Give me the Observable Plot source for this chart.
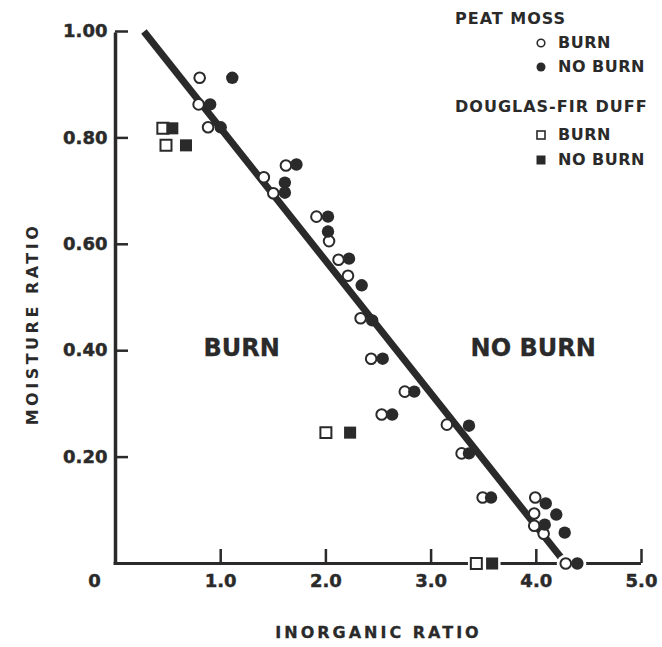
<!DOCTYPE html>
<html>
<head>
<meta charset="utf-8">
<script src="https://cdn.jsdelivr.net/npm/d3@7"></script>
<script src="https://cdn.jsdelivr.net/npm/@observablehq/plot@0.6"></script>
<style>
  html, body { margin: 0; padding: 0; background: #fff; }
  #wrap { position: relative; width: 662px; height: 647px; font-family: "DejaVu Sans", sans-serif; color: #2a2a2a; }
  #legend { position: absolute; left: 0; top: 0; width: 662px; height: 200px; pointer-events: none; }
  .lg { position: absolute; font-weight: bold; font-size: 16px; line-height: 1; white-space: nowrap; }
  .lg.head { letter-spacing: 1px; }
  .lg.item { letter-spacing: 0.5px; }
  .sym { position: absolute; }
  #ytitle { position: absolute; left: 33px; top: 324px; transform: translate(-50%, -50%) rotate(-90deg);
            font-weight: bold; font-size: 16px; letter-spacing: 3.5px; white-space: nowrap; line-height: 1; }
</style>
</head>
<body>
<div id="wrap">
  <div id="chart"></div>
  <div id="legend"></div>
  <div id="ytitle"></div>
</div>
<script>
// ---- data ----
const peatBurnX   = [0.80, 0.79, 0.88, 1.41, 1.50, 1.62, 1.91, 2.03, 2.12, 2.21, 2.33, 2.43, 2.53, 2.75, 3.15, 3.29, 3.49, 3.99, 3.98, 3.98, 4.07, 4.28];
const peatBurnY   = [0.913, 0.863, 0.820, 0.726, 0.696, 0.748, 0.652, 0.606, 0.571, 0.541, 0.461, 0.385, 0.280, 0.323, 0.261, 0.207, 0.124, 0.124, 0.094, 0.071, 0.056, 0.0];
const peatNoBurnX = [1.11, 0.90, 1.00, 1.72, 1.61, 1.61, 2.02, 2.02, 2.22, 2.34, 2.44, 2.54, 2.63, 2.84, 3.36, 3.36, 3.57, 4.09, 4.19, 4.08, 4.27, 4.39];
const peatNoBurnY = [0.913, 0.863, 0.820, 0.750, 0.716, 0.697, 0.652, 0.624, 0.573, 0.523, 0.457, 0.385, 0.280, 0.323, 0.259, 0.207, 0.124, 0.113, 0.092, 0.073, 0.058, 0.0];
const duffBurnX   = [0.45, 0.48, 2.00, 3.43];
const duffBurnY   = [0.818, 0.786, 0.246, 0.0];
const duffNoBurnX = [0.54, 0.67, 2.23, 3.58];
const duffNoBurnY = [0.818, 0.786, 0.246, 0.0];
const lineX = [0.27, 4.28];
const lineY = [1.0, 0.0];
const xTicks = [1, 2, 3, 4, 5];
const xTickLabels = ["1.0", "2.0", "3.0", "4.0", "5.0"];
const yTicks = [0.2, 0.4, 0.6, 0.8, 1.0];
const yTickLabels = ["0.20", "0.40", "0.60", "0.80", "1.00"];
const regionLabels = ["BURN", "NO BURN"];
const regionX = [1.2, 3.97];
const regionY = [0.405, 0.405];
const xTitle = "INORGANIC RATIO";
const yTitle = "MOISTURE RATIO";

// ---- build tables ----
const zip = (xs, ys) => xs.map((x, i) => ({x, y: ys[i]}));
const peatBurn = zip(peatBurnX, peatBurnY);
const peatNoBurn = zip(peatNoBurnX, peatNoBurnY);
const duffBurn = zip(duffBurnX, duffBurnY);
const duffNoBurn = zip(duffNoBurnX, duffNoBurnY);
const fitLine = zip(lineX, lineY);
const regions = regionLabels.map((t, i) => ({t, x: regionX[i], y: regionY[i]}));
const ink = "#2a2a2a";
const onAxis = d => d.y === 0;
const heavy = {fontWeight: "bold", fill: ink, stroke: ink, strokeWidth: 0.45};

const chart = Plot.plot({
  width: 662,
  height: 647,
  marginLeft: 115,
  marginRight: 21,
  marginTop: 31,
  marginBottom: 84,
  x: {domain: [0, 5], axis: null},
  y: {domain: [0, 1], axis: null},
  style: {fontFamily: "DejaVu Sans", background: "white", color: ink, overflow: "visible"},
  marks: [
    // axes
    Plot.ruleX([0], {y1: 0, y2: 1, stroke: ink, strokeWidth: 3.5, insetBottom: -1.5}),
    Plot.ruleY([0], {x1: 0, x2: 5, stroke: ink, strokeWidth: 3, insetLeft: -1.5}),
    Plot.ruleY(yTicks, {y: d => d, x1: 0, x2: 0, insetRight: -13, stroke: ink, strokeWidth: 2.5}),
    Plot.ruleX(xTicks, {x: d => d, y1: 0, y2: 0, insetTop: -14, stroke: ink, strokeWidth: 2.5}),
    // tick labels
    Plot.text(yTicks, {x: 0, y: d => d, text: (d, i) => yTickLabels[i], dx: -8, textAnchor: "end", fontSize: 18, ...heavy}),
    Plot.text(xTicks, {x: d => d, y: 0, text: (d, i) => xTickLabels[i], dy: 18, fontSize: 18, ...heavy}),
    Plot.text(["0"], {x: 0, y: 0, text: d => d, dx: -21, dy: 18, fontSize: 18, ...heavy}),
    // x axis title
    Plot.text([xTitle], {frameAnchor: "bottom", text: d => d, dy: 74, fontSize: 16, ...heavy, strokeWidth: 0.3}),
    // fitted line
    Plot.line(fitLine, {x: "x", y: "y", stroke: ink, strokeWidth: 7, strokeLinecap: "butt"}),
    // white halos that break the x-axis under markers sitting on it
    Plot.dot(peatBurn.filter(onAxis).concat(peatNoBurn.filter(onAxis)), {x: "x", y: "y", r: 9, fill: "white"}),
    Plot.dot(duffBurn.filter(onAxis).concat(duffNoBurn.filter(onAxis)), {x: "x", y: "y", r: 9.5, symbol: "square", fill: "white"}),
    // points
    Plot.dot(peatBurn, {x: "x", y: "y", r: 5.3, fill: "white", stroke: ink, strokeWidth: 2}),
    Plot.dot(peatNoBurn, {x: "x", y: "y", r: 6.2, fill: ink}),
    Plot.dot(duffBurn, {x: "x", y: "y", r: 6.2, symbol: "square", fill: "white", stroke: ink, strokeWidth: 2}),
    Plot.dot(duffNoBurn, {x: "x", y: "y", r: 6.8, symbol: "square", fill: ink}),
    // region labels
    Plot.text(regions, {x: "x", y: "y", text: "t", fontSize: 24, ...heavy, strokeWidth: 0.3})
  ]
});
chart.querySelectorAll("text").forEach(t => {
  if (t.textContent === xTitle) t.setAttribute("letter-spacing", "3");
});
document.getElementById("chart").appendChild(chart);
document.getElementById("ytitle").textContent = yTitle;

// ---- legend (HTML overlay) ----
const legendGroups = [
  {title: "PEAT MOSS", y: 19, items: [
    {label: "BURN", y: 43, shape: "circle", filled: false},
    {label: "NO BURN", y: 67, shape: "circle", filled: true}
  ]},
  {title: "DOUGLAS-FIR DUFF", y: 107, items: [
    {label: "BURN", y: 135, shape: "square", filled: false},
    {label: "NO BURN", y: 160, shape: "square", filled: true}
  ]}
];
const legend = document.getElementById("legend");
for (const g of legendGroups) {
  const h = document.createElement("div");
  h.className = "lg head";
  h.textContent = g.title;
  h.style.left = "455px";
  h.style.top = (g.y - 8) + "px";
  legend.appendChild(h);
  for (const it of g.items) {
    const s = document.createElementNS("http://www.w3.org/2000/svg", "svg");
    s.setAttribute("width", 14); s.setAttribute("height", 14);
    s.setAttribute("class", "sym");
    s.style.left = (541 - 7) + "px";
    s.style.top = (it.y - 7) + "px";
    let el;
    if (it.shape === "circle") {
      el = document.createElementNS("http://www.w3.org/2000/svg", "circle");
      el.setAttribute("cx", 7); el.setAttribute("cy", 7);
      el.setAttribute("r", it.filled ? 4.5 : 3.8);
    } else {
      el = document.createElementNS("http://www.w3.org/2000/svg", "rect");
      const sz = it.filled ? 9 : 8;
      el.setAttribute("x", 7 - sz / 2); el.setAttribute("y", 7 - sz / 2);
      el.setAttribute("width", sz); el.setAttribute("height", sz);
    }
    el.setAttribute("fill", it.filled ? ink : "white");
    if (!it.filled) { el.setAttribute("stroke", ink); el.setAttribute("stroke-width", 1.6); }
    s.appendChild(el);
    legend.appendChild(s);
    const t = document.createElement("div");
    t.className = "lg item";
    t.textContent = it.label;
    t.style.left = "558px";
    t.style.top = (it.y - 8) + "px";
    legend.appendChild(t);
  }
}
</script>
</body>
</html>
